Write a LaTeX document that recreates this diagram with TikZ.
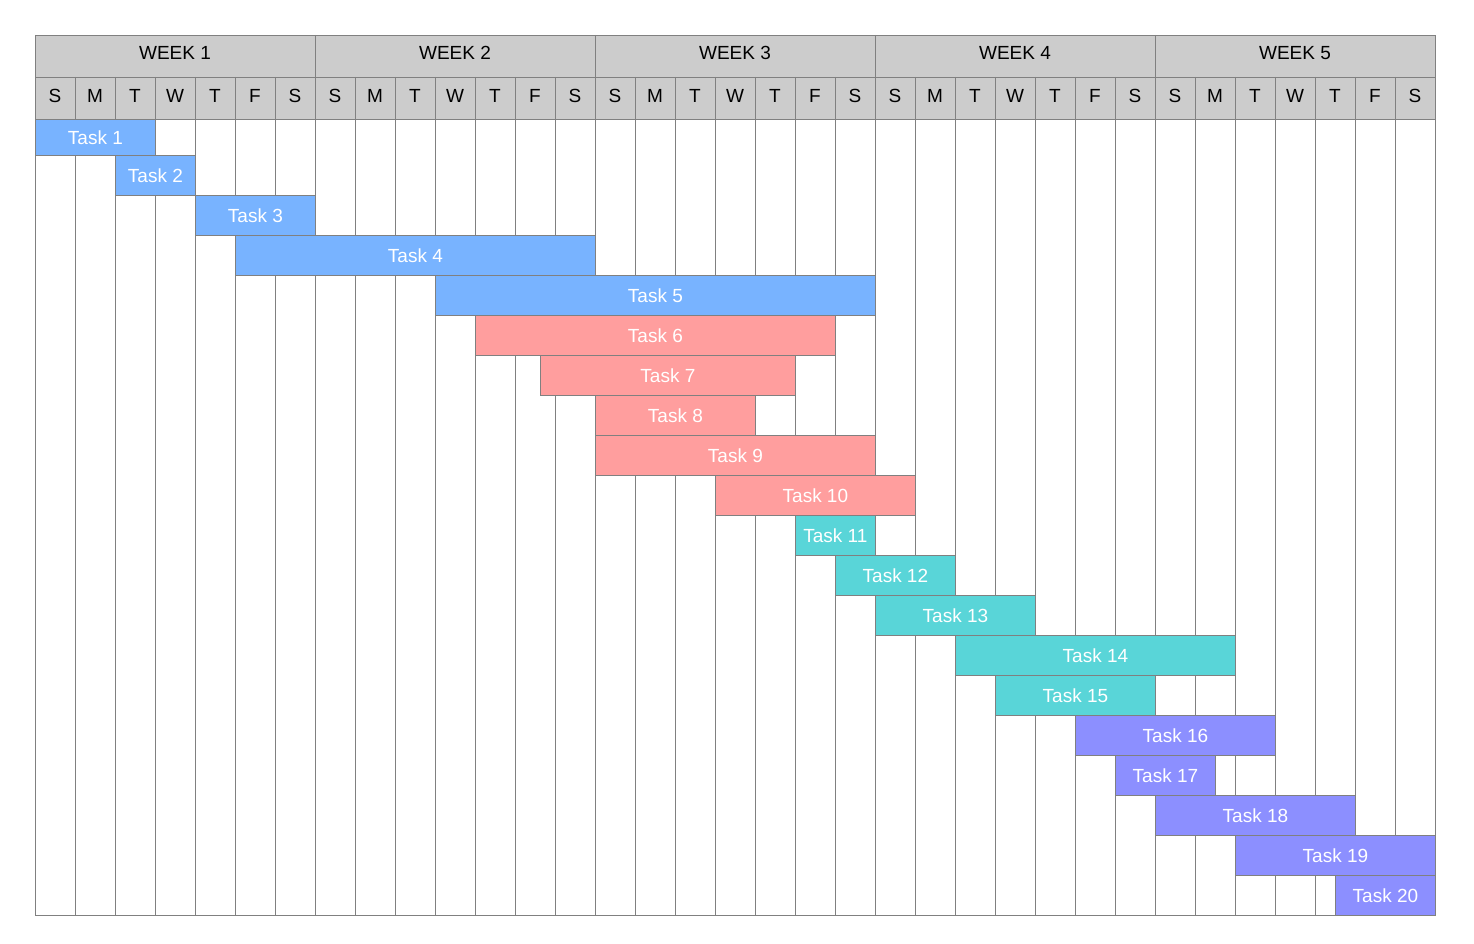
\documentclass[tikz,border=0pt]{standalone}
\usepackage{fontspec}
\setmainfont{Liberation Sans}
\usetikzlibrary{positioning}
\definecolor{hdrgray}{HTML}{CCCCCC}
\definecolor{gridgray}{HTML}{808080}
\definecolor{barblue}{HTML}{78B3FF}
\definecolor{barred}{HTML}{FF9E9E}
\definecolor{barteal}{HTML}{59D5D8}
\definecolor{barpurple}{HTML}{8C8FFF}

\begin{document}
\begin{tikzpicture}[
    x=1pt, y=-1pt,
    hdrtext/.style={font=\fontsize{19}{22}\selectfont, text=black},
    bar/.style={draw=gridgray, line width=0.8pt, inner sep=0pt, anchor=north west,
        minimum height=40pt, text=white, font=\fontsize{19}{22}\selectfont},
    gridline/.style={draw=gridgray, line width=0.8pt}
]
    \useasboundingbox (0,0) rectangle (1474,944);
    % header rows
    \fill[hdrgray] (35,35) rectangle (1435,119);
    \foreach \w in {0,...,4} {
        \node[hdrtext] (wk\w) at (175+280*\w,53) {WEEK \the\numexpr\w+1\relax};
        \draw[gridline] (35+280*\w,35) -- (35+280*\w,77);
    }
    \foreach \d [count=\i from 0] in {S,M,T,W,T,F,S,S,M,T,W,T,F,S,S,M,T,W,T,F,S,S,M,T,W,T,F,S,S,M,T,W,T,F,S} {
        \node[hdrtext] (day\i) at (55+40*\i,96) {\d};
        \draw[gridline] (35+40*\i,77) -- (35+40*\i,915);
    }
    \draw[gridline] (35,35) rectangle (1435,915);
    \draw[gridline] (35,77) -- (1435,77);
    \draw[gridline] (35,119) -- (1435,119);
    % task bars: start column, end column, colour
    \node[bar, fill=barblue, minimum width=120pt, minimum height=36pt] (t1) at (35,119) {Task 1};
    \foreach \n/\s/\e/\c in {2/2/4/barblue, 3/4/7/barblue, 4/5/14/barblue, 5/10/21/barblue,
        6/11/20/barred, 7/12.625/19/barred, 8/14/18/barred, 9/14/21/barred, 10/17/22/barred,
        11/19/21/barteal, 12/20/23/barteal, 13/21/25/barteal, 14/23/30/barteal, 15/24/28/barteal,
        16/26/31/barpurple, 17/27/29.5/barpurple, 18/28/33/barpurple, 19/30/35/barpurple, 20/32.5/35/barpurple} {
        \pgfmathsetmacro\barw{40*(\e-\s)}
        \node[bar, fill=\c, minimum width=\barw pt] (t\n) at (35+40*\s,155+40*\n-80) {Task \n};
    }
\end{tikzpicture}
\end{document}
